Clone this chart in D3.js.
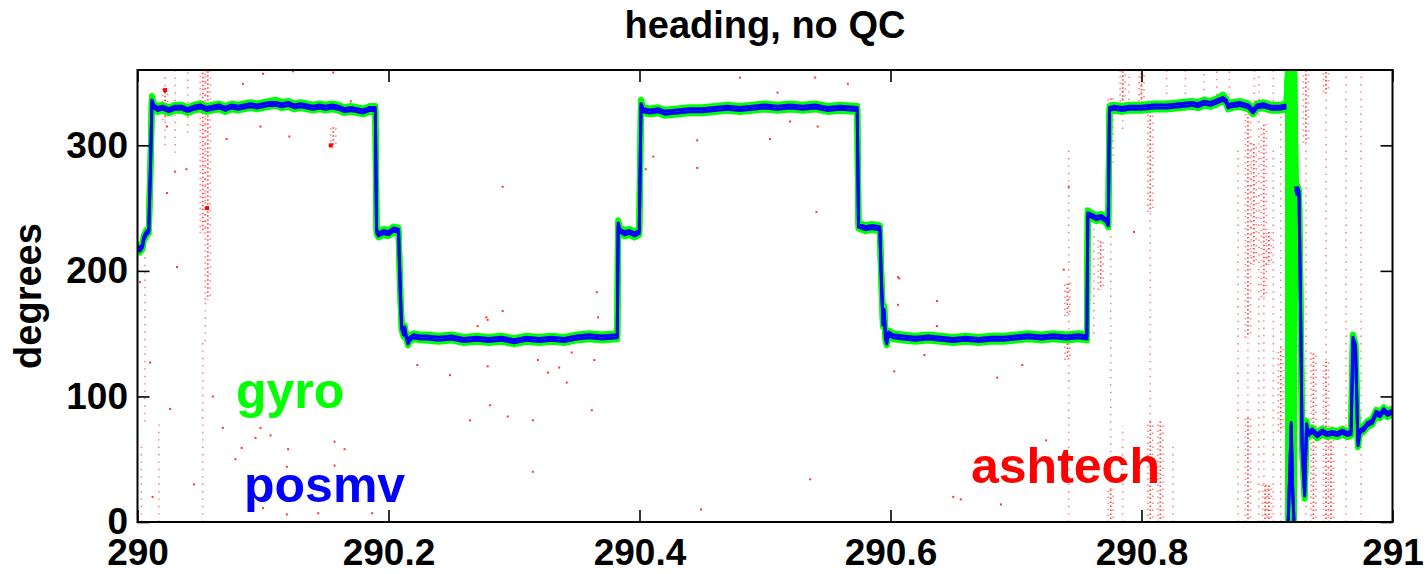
<!DOCTYPE html>
<html>
<head>
<meta charset="utf-8">
<script src="https://cdn.jsdelivr.net/npm/d3@7"></script>
<style>
  html, body { margin: 0; padding: 0; background: #fff; }
  svg text { font-family: "Liberation Sans", Arial, Helvetica, sans-serif; font-weight: bold; }
</style>
</head>
<body>
<svg id="chart" width="1427" height="574"></svg>
<script>
// ---------------- DATA ----------------
const chartTitle = "heading, no QC";
const yLabel = "degrees";
const xTicks = [290, 290.2, 290.4, 290.6, 290.8, 291];
const xTickLabels = ["290", "290.2", "290.4", "290.6", "290.8", "291"];
const yTicks = [0, 100, 200, 300];
const yTickLabels = ["0", "100", "200", "300"];
const seriesNames = ["gyro", "posmv", "ashtech"];

// time (decimal day) shared by gyro and posmv
const timeDays = [
  290.000, 290.002, 290.004, 290.005, 290.007, 290.009, 290.0105, 290.0115, 290.013, 290.016,
  290.020, 290.025, 290.030, 290.035, 290.040, 290.045, 290.050, 290.055, 290.060, 290.065,
  290.070, 290.075, 290.080, 290.085, 290.090, 290.095, 290.100, 290.105, 290.110, 290.115,
  290.120, 290.125, 290.130, 290.135, 290.140, 290.145, 290.150, 290.155, 290.160, 290.165,
  290.170, 290.175, 290.180, 290.185, 290.1895, 290.1905, 290.192, 290.196, 290.200, 290.204,
  290.208, 290.2095, 290.2105, 290.212, 290.213, 290.214, 290.2155, 290.217, 290.220, 290.225,
  290.230, 290.240, 290.250, 290.260, 290.270, 290.280, 290.290, 290.300, 290.310, 290.320,
  290.330, 290.340, 290.350, 290.360, 290.370, 290.3823, 290.3830, 290.3845, 290.388, 290.392,
  290.396, 290.3998, 290.4012, 290.403, 290.408, 290.415, 290.420, 290.430, 290.440, 290.450,
  290.460, 290.470, 290.480, 290.490, 290.500, 290.510, 290.520, 290.530, 290.540, 290.550,
  290.560, 290.5735, 290.5745, 290.580, 290.585, 290.5915, 290.5925, 290.5940, 290.5950, 290.5960,
  290.5970, 290.5985, 290.602, 290.610, 290.620, 290.630, 290.640, 290.650, 290.660, 290.670,
  290.680, 290.690, 290.700, 290.710, 290.720, 290.730, 290.740, 290.750, 290.7565, 290.7572,
  290.760, 290.764, 290.768, 290.772, 290.7735, 290.7745, 290.778, 290.785, 290.790, 290.800,
  290.810, 290.820, 290.830, 290.840, 290.845, 290.850, 290.855, 290.860, 290.865, 290.8675,
  290.869, 290.872, 290.878, 290.885, 290.889, 290.892, 290.897, 290.903, 290.910, 290.9155,
  290.9168, 290.9169, 290.9193, 290.9203, 290.9215, 290.9216, 290.9228, 290.9237, 290.9246, 290.9255,
  290.927, 290.928, 290.929, 290.930, 290.9315, 290.933, 290.936, 290.940, 290.944, 290.948,
  290.952, 290.956, 290.960, 290.964, 290.967, 290.9685, 290.9705, 290.9725, 290.974, 290.977,
  290.980, 290.984, 290.987, 290.990, 290.993, 290.996, 291.000
];
const gyroDeg = [
  219, 217, 220, 226, 230, 232, 290, 337, 331, 329,
  330, 328, 330, 330, 328, 330, 331, 329, 330, 331,
  329, 331, 330, 331, 332, 331, 332, 333, 334, 332,
  333, 331, 332, 331, 330, 331, 330, 331, 330, 328,
  329, 328, 327, 329, 329, 232, 229, 231, 230, 233,
  232, 180, 155, 150, 154, 148, 143, 146, 148, 147,
  147, 146, 147, 145, 146, 145, 146, 144, 146, 145,
  146, 145, 147, 148, 147, 148, 238, 232, 230, 231,
  229, 231, 334, 328, 327, 328, 326, 327, 328, 328,
  329, 330, 329, 330, 331, 330, 331, 330, 331, 329,
  330, 329, 236, 234, 235, 234, 200, 158, 170, 147,
  143, 150, 148, 147, 146, 147, 146, 145, 146, 145,
  146, 146, 147, 148, 147, 148, 147, 148, 147, 246,
  244, 242, 243, 240, 237, 329, 330, 329, 330, 330,
  331, 331, 332, 333, 332, 334, 333, 335, 338, 335,
  331, 332, 333, 331, 327, 331, 332, 330, 330, 331,
  359.9, 0.1, 79, 30, 0.1, 359.9, 270, 262, 265, 262,
  150, 60, 40, 21, 78, 70, 73, 69, 72, 70,
  71, 70, 72, 70, 71, 147, 140, 62, 72, 74,
  78, 80, 87, 85, 89, 86, 88
];
// posmv: null = no fix (no line drawn across the 360/0 wrap)
const posmvDeg = [
  219, 217, 220, 226, 230, 232, 290, 335, 331, 329,
  330, 328, 330, 330, 328, 330, 331, 329, 330, 331,
  329, 331, 330, 331, 332, 331, 332, 333, 333, 332,
  333, 331, 332, 331, 330, 331, 330, 331, 330, 328,
  329, 328, 327, 329, 329, 232, 229, 231, 230, 233,
  232, 180, 155, 150, 154, 148, 143, 146, 148, 147,
  147, 146, 147, 145, 146, 145, 146, 144, 146, 145,
  146, 145, 147, 148, 147, 148, 237, 232, 230, 231,
  229, 231, 332, 328, 327, 328, 326, 327, 328, 328,
  329, 330, 329, 330, 331, 330, 331, 330, 331, 329,
  330, 329, 236, 234, 235, 234, 200, 158, 168, 147,
  143, 150, 148, 147, 146, 147, 146, 145, 146, 145,
  146, 146, 147, 148, 147, 148, 147, 148, 147, 245,
  244, 242, 243, 240, 237, 329, 330, 329, 330, 330,
  331, 331, 332, 333, 332, 334, 333, 335, 337, 335,
  331, 332, 333, 331, 327, 331, 332, 330, 330, 331,
  null, 0.1, 78, 30, 0.1, null, 266, 262, 265, 262,
  150, 60, 40, 22, 77, 70, 73, 69, 72, 70,
  71, 70, 72, 70, 71, 146, 140, 62, 72, 74,
  78, 80, 87, 85, 89, 86, 88
];

// ashtech: dense vertical streaks of scattered fixes [day, degLow, degHigh]
const ashDenseStreaks = [
  [290.056, 177, 359], [290.052, 230, 359], [290.156, 298, 315], [290.022, 320, 345],
  [290.7755, 283, 339], [290.807, 247, 325], [290.807, 0, 80], [290.815, 0, 80],
  [290.8848, 147, 325], [290.8848, 0, 83], [290.8895, 205, 303], [290.8975, 179, 317],
  [290.9015, 205, 231], [290.911, 72, 139], [290.9015, 0, 30], [290.8985, 0, 30],
  [290.931, 302, 360], [290.923, 103, 209], [290.937, 0, 135], [290.947, 342, 360],
  [290.947, 0, 129], [290.951, 0, 76], [290.741, 164, 191], [290.741, 129, 143],
  [290.7675, 185, 225], [290.7755, 0, 26], [290.785, 330, 360], [290.8, 335, 360]
];
// ashtech: sparse vertical streaks [day, degLow, degHigh]
const ashSparseStreaks = [
  [290.052, 0, 144], [290.054, 144, 177], [290.030, 294, 360], [290.022, 300, 360],
  [290.040, 310, 360], [290.006, 80, 220], [290.003, 0, 60], [290.017, 0, 80],
  [290.7755, 26, 283], [290.785, 313, 360], [290.785, 0, 77], [290.807, 80, 247],
  [290.975, 0, 360], [290.947, 129, 342], [290.8848, 83, 147], [290.877, 0, 300],
  [290.742, 0, 300], [290.79, 330, 360], [290.80, 330, 360], [290.82, 335, 360],
  [290.835, 335, 360], [290.85, 338, 360], [290.86, 340, 360], [290.87, 340, 360],
  [290.89, 335, 360], [290.905, 335, 360], [290.8975, 30, 179], [290.911, 139, 330],
  [290.911, 0, 72], [290.931, 0, 302], [290.963, 0, 360], [290.8935, 0, 360],
  [290.905, 0, 300], [290.825, 0, 60], [290.762, 150, 250]
];
// ashtech: isolated fixes [day, deg]
const ashDots = [
  [290.022, 344], [290.0235, 315], [290.279, 161], [290.271, 156], [290.084, 349],
  [290.100, 357], [290.124, 359], [290.156, 358], [290.098, 315], [290.121, 307],
  [290.071, 305], [290.0235, 262], [290.030, 279], [290.039, 281], [290.0315, 203],
  [290.002, 191], [290.010, 127], [290.068, 75], [290.098, 75], [290.106, 69],
  [290.094, 67], [290.120, 58], [290.083, 59], [290.157, 64], [290.165, 58],
  [290.119, 44], [290.157, 45], [290.100, 11], [290.119, 6], [290.144, 7],
  [290.187, 7], [290.223, 125], [290.249, 117], [290.265, 81], [290.279, 124],
  [290.281, 93], [290.295, 84], [290.315, 81], [290.315, 40], [290.327, 119],
  [290.336, 123], [290.342, 111], [290.346, 135], [290.362, 89], [290.364, 129],
  [290.319, 129], [290.291, 267], [290.446, 304], [290.446, 282], [290.504, 305],
  [290.541, 247], [290.411, 291], [290.405, 281], [290.480, 354], [290.510, 342],
  [290.540, 354], [290.566, 349], [290.520, 319], [290.542, 315], [290.366, 183],
  [290.367, 163], [290.291, 168], [290.278, 163], [290.606, 195], [290.606, 173],
  [290.607, 194], [290.637, 176], [290.637, 156], [290.627, 133], [290.603, 120],
  [290.685, 115], [290.705, 125], [290.738, 201], [290.794, 231], [290.742, 267],
  [290.650, 20], [290.656, 18], [290.449, 10], [290.536, 34], [290.688, 14],
  [290.712, 41], [290.724, 65], [290.170, 335], [290.190, 325], [290.060, 100],
  [290.078, 50], [290.045, 30], [290.012, 20], [290.026, 90], [290.130, 95]
];
const ashBigDots = [[290.022, 344], [290.154, 300], [290.0555, 250]];

// ---------------- DRAW ----------------
const svg = d3.select("#chart");
const plot = { left: 137.5, right: 1392.5, top: 70, bottom: 522 };

const x = d3.scaleLinear().domain([290, 291]).range([plot.left, plot.right]);
const y = d3.scaleLinear().domain([0, 360]).range([plot.bottom, plot.top]);

const colors = { gyro: "#00ff00", posmv: "#0000ff", ashtech: "#ff0000" };

svg.append("defs").append("clipPath").attr("id", "clip")
  .append("rect")
  .attr("x", plot.left).attr("y", plot.top)
  .attr("width", plot.right - plot.left).attr("height", plot.bottom - plot.top);

const g = svg.append("g").attr("clip-path", "url(#clip)");

// ashtech sparse streaks
g.append("g").selectAll("line").data(ashSparseStreaks).join("line")
  .attr("x1", d => x(d[0])).attr("x2", d => x(d[0]))
  .attr("y1", d => y(d[1])).attr("y2", d => y(d[2]))
  .attr("stroke", colors.ashtech).attr("stroke-width", 1.6)
  .attr("stroke-opacity", 0.5)
  .attr("stroke-dasharray", "1.4 6");
// ashtech dense streaks: drawn as a few jittered dotted columns
const denseOffsets = [
  { dx: -2.5, dash: "1.5 4.5", off: 0, op: 0.45 },
  { dx: 0, dash: "1.5 2.5", off: 1, op: 0.7 },
  { dx: 2.5, dash: "1.5 5.5", off: 3, op: 0.45 }
];
denseOffsets.forEach(o => {
  g.append("g").selectAll("line").data(ashDenseStreaks).join("line")
    .attr("x1", d => x(d[0]) + o.dx).attr("x2", d => x(d[0]) + o.dx)
    .attr("y1", d => y(d[1])).attr("y2", d => y(d[2]))
    .attr("stroke", colors.ashtech).attr("stroke-width", 1.8)
    .attr("stroke-opacity", o.op)
    .attr("stroke-dasharray", o.dash).attr("stroke-dashoffset", o.off);
});
g.append("g").selectAll("rect").data(ashDots).join("rect")
  .attr("x", d => x(d[0]) - 1).attr("y", d => y(d[1]) - 1)
  .attr("width", 2).attr("height", 2)
  .attr("fill", colors.ashtech).attr("fill-opacity", 0.8);
g.append("g").selectAll("rect").data(ashBigDots).join("rect")
  .attr("x", d => x(d[0]) - 2).attr("y", d => y(d[1]) - 2)
  .attr("width", 4).attr("height", 4)
  .attr("fill", colors.ashtech);

// gyro & posmv lines (drawn as a narrow band to mimic fast jitter)
const line = d3.line().defined(d => d[1] != null).x(d => x(d[0])).y(d => y(d[1]));
const gyroPts = timeDays.map((t, i) => [t, gyroDeg[i]]);
const posmvPts = timeDays.map((t, i) => [t, posmvDeg[i]]);

[-3, 0, 3].forEach(dy => {
  g.append("path").datum(gyroPts)
    .attr("transform", `translate(0,${dy})`)
    .attr("d", line).attr("fill", "none")
    .attr("stroke", colors.gyro).attr("stroke-width", 6)
    .attr("stroke-linejoin", "round").attr("stroke-linecap", "round");
});
[-1.5, 1.5].forEach(dy => {
  g.append("path").datum(posmvPts)
    .attr("transform", `translate(0,${dy})`)
    .attr("d", line).attr("fill", "none")
    .attr("stroke", colors.posmv).attr("stroke-width", 3)
    .attr("stroke-linejoin", "round").attr("stroke-linecap", "butt");
});

// axes (inward ticks on all sides)
const fontSize = 37;
const xAxisB = d3.axisBottom(x).tickValues(xTicks).tickFormat((d, i) => xTickLabels[i])
  .tickSize(-12).tickPadding(17);
const xAxisT = d3.axisTop(x).tickValues(xTicks).tickFormat("").tickSize(-12);
const yAxisL = d3.axisLeft(y).tickValues(yTicks).tickFormat((d, i) => yTickLabels[i])
  .tickSize(-12).tickPadding(9.5);
const yAxisR = d3.axisRight(y).tickValues(yTicks).tickFormat("").tickSize(-12);

function styleAxis(sel) {
  sel.select(".domain").remove();
  sel.selectAll(".tick line").attr("stroke", "#000").attr("stroke-width", 1.6);
  sel.selectAll(".tick text").attr("fill", "#000")
    .style("font-size", fontSize + "px").style("font-weight", "bold");
}
svg.append("g").attr("transform", `translate(0,${plot.bottom})`).call(xAxisB).call(styleAxis);
svg.append("g").attr("transform", `translate(0,${plot.top})`).call(xAxisT).call(styleAxis);
svg.append("g").attr("transform", `translate(${plot.left},0)`).call(yAxisL).call(styleAxis);
svg.append("g").attr("transform", `translate(${plot.right},0)`).call(yAxisR).call(styleAxis);

// box
svg.append("rect")
  .attr("x", plot.left).attr("y", plot.top)
  .attr("width", plot.right - plot.left).attr("height", plot.bottom - plot.top)
  .attr("fill", "none").attr("stroke", "#000").attr("stroke-width", 2);

// title
svg.append("text")
  .attr("x", (plot.left + plot.right) / 2).attr("y", 38)
  .attr("text-anchor", "middle")
  .style("font-size", "38px")
  .text(chartTitle);

// y label
svg.append("text")
  .attr("transform", `translate(41,${296}) rotate(-90)`)
  .attr("text-anchor", "middle")
  .style("font-size", "38px")
  .text(yLabel);

// series labels inside the axes
const labelPos = [
  { name: seriesNames[0], x: 236, y: 408 },
  { name: seriesNames[1], x: 244, y: 502 },
  { name: seriesNames[2], x: 971, y: 483 }
];
svg.append("g").selectAll("text").data(labelPos).join("text")
  .attr("x", d => d.x).attr("y", d => d.y)
  .attr("fill", d => colors[d.name])
  .style("font-size", "50px")
  .text(d => d.name);
</script>
</body>
</html>
